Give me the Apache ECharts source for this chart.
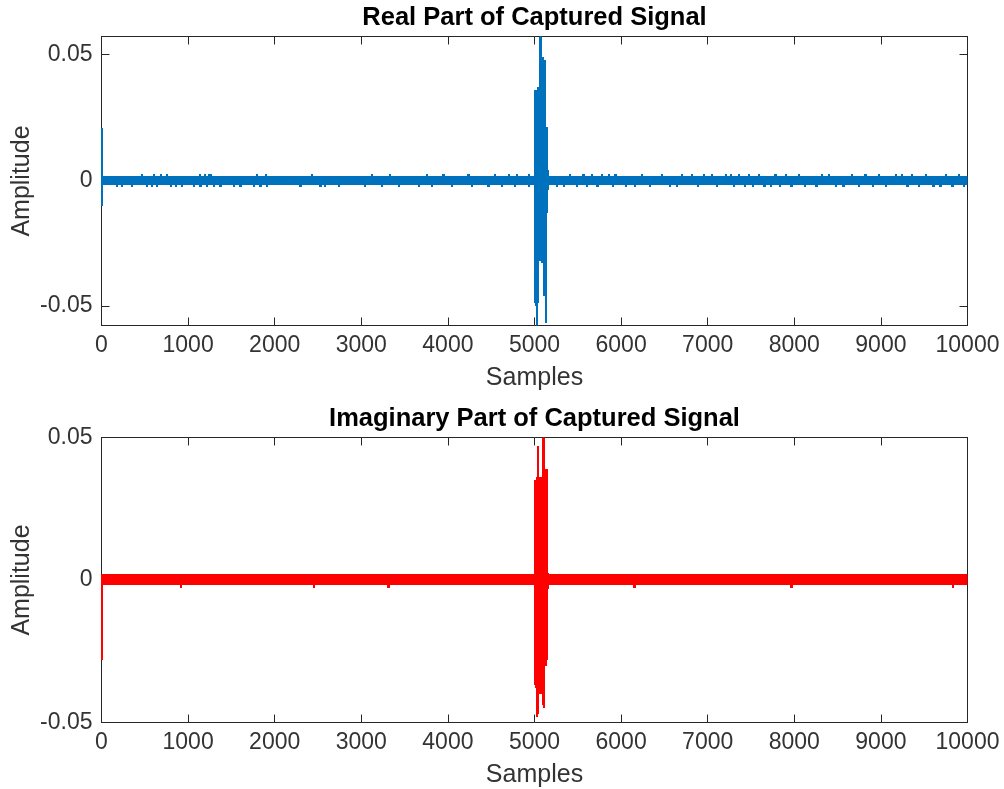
<!DOCTYPE html>
<html>
<head>
<meta charset="utf-8">
<script src="https://cdn.jsdelivr.net/npm/echarts@6.0.0/dist/echarts.min.js"></script>
<style>
  html, body { margin: 0; padding: 0; background: #fff; }
  #main { width: 1004px; height: 789px; }
</style>
</head>
<body>
<div id="main"></div>
<script>
// sample axis
const sampleMin = 0;
const sampleMax = 10000;
const sampleStep = 1000;
const ampTicks = [-0.05, 0, 0.05];

// baseline noise band (low / high)
const realBand = [-0.0020, 0.0015];
const imagBand = [-0.0019, 0.0021];

// very first samples
const realFirst = [0.0208, -0.0102];
const imagFirst = [-0.0282];

// burst around sample 5000, one column every 12 samples
const burstStart = [5000, 5012, 5024, 5036, 5048, 5060, 5072, 5084, 5096, 5108, 5120, 5132, 5144, 5156];
const burstWidth = 12;
const realBurstHigh = [0.036, 0.036, 0.036, 0.037, 0.037, 0.060, 0.058, 0.049, 0.049, 0.048, 0.048, 0.021, 0.021, 0.004];
const realBurstLow = [-0.049, -0.050, -0.060, -0.049, -0.032, -0.032, -0.032, -0.033, -0.033, -0.046, -0.046, -0.057, -0.013, -0.004];
const imagBurstHigh = [0.035, 0.035, 0.036, 0.047, 0.036, 0.036, 0.036, 0.036, 0.052, 0.052, 0.039, 0.039, 0.039, 0.0025];
const imagBurstLow = [-0.037, -0.038, -0.048, -0.047, -0.038, -0.040, -0.040, -0.040, -0.044, -0.045, -0.030, -0.030, -0.028, -0.003];

// small spikes sticking out of the band
const realUpSpikes = [464, 598, 676, 745, 1129, 1184, 1233, 1260, 1792, 1896, 2427, 3120, 3328, 3751, 3943, 4232, 4540, 4694, 4790, 4925,
  5406, 5560, 5657, 5773, 5849, 5927, 6237, 6467, 6700, 6815, 6949, 7046, 7200, 7258, 7354, 7469, 7585, 7777, 7893, 8046, 8316, 8393, 8663, 8816, 8970, 9163, 9240, 9356, 9512, 9743, 9896];
const realDownSpikes = [175, 233, 349, 522, 580, 637, 791, 849, 926, 1060, 1137, 1215, 1291, 1368, 1522, 1599, 1753, 1830, 1908, 2292, 2523,
  2577, 2731, 3039, 3231, 3424, 3655, 3808, 4039, 4270, 4463, 4617, 4771, 4925,
  5250, 5330, 5480, 5600, 5720, 5900, 6050, 6150, 6330, 6560, 6640, 6880, 7100, 7300, 7420, 7520, 7650, 7720, 7830, 7960, 8120, 8250, 8470, 8560, 8740, 8900, 9050, 9300, 9430, 9600, 9680, 9820, 9950];
const realSpikeSize = 0.0025;
const imagDownSpikes = [909, 2449, 3308, 6148, 7960, 9826];
const imagSpikeSize = 0.0028;
const spikeWidth = 20;
const firstWidth = 12;

// items are [from, to, low, high]
function buildColumns(band, first, high, low, ups, downs, size) {
  const items = [[sampleMin, sampleMax, band[0], band[1]]];
  ups.forEach(s => items.push([s, s + spikeWidth, 0, size]));
  downs.forEach(s => items.push([s, s + spikeWidth, -size, 0]));
  first.forEach(v => items.push([0, firstWidth, Math.min(0, v), Math.max(0, v)]));
  burstStart.forEach((s, i) => items.push([s, s + burstWidth, low[i], high[i]]));
  return items;
}
const realItems = buildColumns(realBand, realFirst, realBurstHigh, realBurstLow, realUpSpikes, realDownSpikes, realSpikeSize);
const imagItems = buildColumns(imagBand, imagFirst, imagBurstHigh, imagBurstLow, [], imagDownSpikes, imagSpikeSize);

function renderColumn(params, api) {
  const a = api.coord([api.value(0), api.value(3)]);
  const b = api.coord([api.value(1), api.value(2)]);
  // snap to whole pixels so neighbouring columns join without seams
  const x0 = Math.floor(a[0]);
  const x1 = Math.max(x0 + 1, Math.round(b[0]));
  const y0 = Math.round(a[1]);
  const y1 = Math.max(y0 + 1, Math.round(b[1]));
  const cs = params.coordSys;
  // clip vertically to the box, but let the first sample sit on the left edge
  const shape = echarts.graphic.clipRectByRect(
    { x: x0, y: y0, width: x1 - x0, height: y1 - y0 },
    { x: cs.x - 1, y: cs.y, width: cs.width + 1, height: cs.height });
  if (!shape) return null;
  return { type: 'rect', shape: shape, style: { fill: api.visual('color') }, z2: 10 };
}

const axisColor = '#262626';
const fontFamily = '"Liberation Sans", Arial, sans-serif';
const grids = [
  { left: 101.5, top: 36.5, width: 866, height: 289, containLabel: false, outerBoundsMode: 'none' },
  { left: 101.5, top: 437.5, width: 866, height: 285, containLabel: false, outerBoundsMode: 'none' }
];
const yRanges = [[-0.0578, 0.0572], [-0.05, 0.05]];

function xAxes(g) {
  const base = {
    gridIndex: g, type: 'value', min: sampleMin, max: sampleMax, interval: sampleStep,
    axisLine: { show: true, onZero: false, lineStyle: { color: axisColor, width: 1 } },
    axisTick: { show: true, inside: true, length: 8, lineStyle: { color: axisColor } },
    splitLine: { show: false }
  };
  return [
    Object.assign({}, base, {
      position: 'bottom',
      axisLabel: { fontSize: 23, color: '#333', margin: 9, fontFamily: fontFamily, formatter: v => String(v) },
      name: 'Samples', nameLocation: 'middle', nameGap: 40, nameMoveOverlap: false,
      nameTextStyle: { fontSize: 25, color: '#333', fontFamily: fontFamily }
    }),
    Object.assign({}, base, { position: 'top', axisLabel: { show: false } })
  ];
}
function yAxes(g) {
  const base = {
    gridIndex: g, type: 'value', min: yRanges[g][0], max: yRanges[g][1],
    axisLine: { show: true, onZero: false, lineStyle: { color: axisColor, width: 1 } },
    axisTick: { show: true, inside: true, length: 8, customValues: ampTicks, lineStyle: { color: axisColor } },
    splitLine: { show: false }
  };
  return [
    Object.assign({}, base, {
      position: 'left',
      axisLabel: { fontSize: 23, color: '#333', margin: 9, fontFamily: fontFamily, customValues: ampTicks, formatter: v => String(v) },
      name: 'Amplitude', nameLocation: 'middle', nameGap: 67, nameMoveOverlap: false,
      nameTextStyle: { fontSize: 25, color: '#333', fontFamily: fontFamily }
    }),
    Object.assign({}, base, { position: 'right', axisLabel: { show: false } })
  ];
}

const chart = echarts.init(document.getElementById('main'), null, { renderer: 'canvas' });
chart.setOption({
  animation: false,
  backgroundColor: '#fff',
  grid: grids,
  xAxis: xAxes(0).concat(xAxes(1)),
  yAxis: yAxes(0).concat(yAxes(1)),
  graphic: [
    { type: 'text', x: 534.5, y: 18, style: { text: 'Real Part of Captured Signal', align: 'center', verticalAlign: 'middle', font: 'bold 25.5px ' + fontFamily, fill: '#000' } },
    { type: 'text', x: 534.5, y: 419, style: { text: 'Imaginary Part of Captured Signal', align: 'center', verticalAlign: 'middle', font: 'bold 25.5px ' + fontFamily, fill: '#000' } }
  ],
  series: [
    { type: 'custom', name: 'Real', xAxisIndex: 0, yAxisIndex: 0, clip: false, z: 5, itemStyle: { color: '#0072BD' },
      encode: { x: [0, 1], y: [2, 3] }, renderItem: renderColumn, data: realItems },
    { type: 'custom', name: 'Imag', xAxisIndex: 2, yAxisIndex: 2, clip: false, z: 5, itemStyle: { color: '#FF0000' },
      encode: { x: [0, 1], y: [2, 3] }, renderItem: renderColumn, data: imagItems }
  ]
});
</script>
</body>
</html>
